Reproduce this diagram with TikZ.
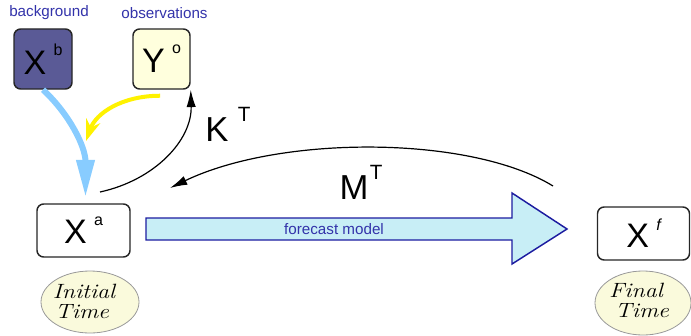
\documentclass[tikz,border=0pt]{standalone}
\usepackage{fontspec}
\usepackage{graphicx}
\setsansfont{Liberation Sans}
\usetikzlibrary{arrows.meta,shapes.geometric}
\definecolor{xbfill}{RGB}{90,90,150}
\definecolor{yofill}{RGB}{255,255,221}
\definecolor{elfill}{RGB}{250,250,220}
\definecolor{fcfill}{RGB}{200,238,246}
\definecolor{fcline}{RGB}{28,28,160}
\definecolor{lbltext}{RGB}{51,51,170}
\definecolor{skyarrow}{RGB}{136,204,255}
\newcommand\supr[2]{\hspace{#1}\raisebox{#2}}
\begin{document}
\begin{tikzpicture}[x=0.75pt,y=-0.75pt,
  varbox/.style={draw=black!85,line width=1.1pt,rounded corners=5pt,inner sep=0pt,
     font=\sffamily\fontsize{25.5}{25.5}\selectfont},
  timeell/.style={ellipse,draw=black!40,line width=0.6pt,fill=elfill,inner sep=0pt},
  timetxt/.style={font=\itshape\fontsize{15.5}{15.5}\selectfont,inner sep=0pt,anchor=base},
  toplbl/.style={font=\sffamily\fontsize{11.4}{12}\selectfont,text=lbltext,inner sep=0pt},
  oplbl/.style={font=\sffamily\fontsize{26}{26}\selectfont,inner sep=0pt},
  adjarrow/.style={black,line width=0.9pt,-{Latex[length=13pt,width=7pt]}}
]
\useasboundingbox (0,0) rectangle (691,335);

% labels
\node[toplbl] (lb) at (49,13) {background};
\node[toplbl] (lo) at (164.5,13) {observations};

% boxes
\node[varbox,fill=xbfill,minimum width=43.5pt,minimum height=45pt] (Xb) at (43,59)
  {X\supr{5.5pt}{14pt}{\fontsize{12}{12}\selectfont b}};
\node[varbox,fill=yofill,minimum width=42.75pt,minimum height=45pt] (Yo) at (161.5,59)
  {Y\supr{5.5pt}{14.5pt}{\fontsize{12}{12}\selectfont o}};
\node[varbox,fill=white,minimum width=69.75pt,minimum height=39.75pt] (Xa) at (83.5,230.5)
  {X\supr{5.5pt}{13.5pt}{\fontsize{12}{12}\selectfont a}};
\node[varbox,fill=white,minimum width=69pt,minimum height=39.75pt] (Xf) at (643.5,233.5)
  {X\supr{5.5pt}{12.5pt}{\fontsize{12}{12}\selectfont\itshape f}};

% time ellipses
\node[timeell,minimum width=73.5pt,minimum height=46.5pt] (it) at (90,302) {};
\node[timetxt] (it1) at (84,298) {\scalebox{1.16}[1]{Initial}};
\node[timetxt] (it2) at (82,318) {\scalebox{1.16}[1]{Time}};
\node[timeell,minimum width=72pt,minimum height=48pt] (ft) at (643,303) {};
\node[timetxt] (ft1) at (636,297) {\scalebox{1.16}[1]{Final}};
\node[timetxt] (ft2) at (642,317) {\scalebox{1.16}[1]{Time}};

% forecast model arrow
\draw[fcline,line width=1.1pt,fill=fcfill,line join=miter]
  (146,218) -- (512,218) -- (512,193) -- (567,229) -- (512,264) -- (512,240) -- (146,240) -- cycle;
\node[toplbl] (fm) at (334,229) {forecast model};

% operator labels
\node[oplbl] (KT) at (228,124) {K\supr{7pt}{15pt}{\fontsize{15.5}{15.5}\selectfont T}};
\node[oplbl] (MT) at (361,182) {M\supr{1pt}{15pt}{\fontsize{15.5}{15.5}\selectfont T}};

% named free ends
\coordinate (ymeet) at (86,141);
\coordinate (kstart) at (100,192);
\coordinate (mstart) at (553,186);
\coordinate (mend) at (170,188);

% background -> analysis
\draw[skyarrow,line width=4.5pt,-{Triangle[length=28pt,width=13pt]}]
  (Xb.south) .. controls +(27,25) and +(0,-50) .. ([xshift=1.5pt,yshift=4.5pt]Xa.north);
% observations -> analysis
\draw[yellow,line width=3pt,-{Stealth[length=16pt,width=11pt]}]
  ([xshift=-1pt,yshift=-4.5pt]Yo.south) .. controls +(-38,0) and +(10,-28) .. (ymeet);
% K^T
\draw[adjarrow] (kstart) .. controls (155,180) and (192,140) .. (Yo.south east);
% M^T
\draw[adjarrow] (mstart) .. controls (470,135) and (280,135) .. (mend);
\end{tikzpicture}
\end{document}
